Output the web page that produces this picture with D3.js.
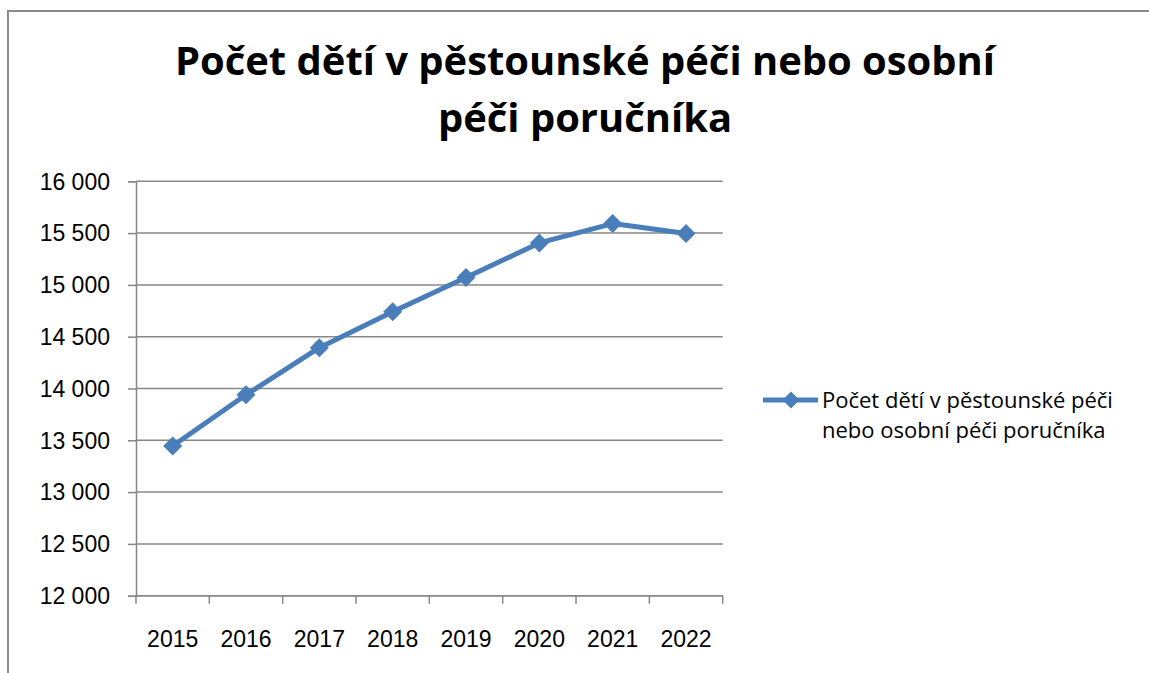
<!DOCTYPE html>
<html>
<head>
<meta charset="utf-8">
<script src="https://cdn.jsdelivr.net/npm/d3@7"></script>
<style>
  html, body { margin: 0; padding: 0; background: #fff; }
  svg { display: block; font-family: "Open Sans", sans-serif; }
</style>
</head>
<body>
<svg id="chart" width="1149" height="673"></svg>
<script>
/* Počet dětí v pěstounské péči – line chart, Excel look */
var years = ['2015', '2016', '2017', '2018', '2019', '2020', '2021', '2022'];
var counts = [13445, 13939, 14394, 14741, 15071, 15405, 15592, 15496];
var yTicks = [12000, 12500, 13000, 13500, 14000, 14500, 15000, 15500, 16000];
var titleLines = ['Počet dětí v pěstounské péči nebo osobní', 'péči poručníka'];
var legendLines = ['Počet dětí v pěstounské péči', 'nebo osobní péči poručníka'];

var blue = '#4a7ebb', grid = '#878787';
var svg = d3.select('#chart');

var plot = { left: 136, right: 722.7, top: 181.3, bottom: 595.7 };
var x = d3.scaleBand().domain(years).range([plot.left, plot.right]).padding(0);
var y = d3.scaleLinear().domain([12000, 16000]).range([plot.bottom, plot.top]);

var cz = d3.formatLocale({ decimal: ',', thousands: '\u00a0', grouping: [3], currency: ['', ''] });
var fmt = cz.format(',d');

/* outer frame (only left + top visible) */
svg.append('path')
  .attr('d', 'M8,673V11H1149')
  .attr('fill', 'none').attr('stroke', '#8a8a8a').attr('stroke-width', 2);

/* title */
var title = svg.append('text')
  .attr('text-anchor', 'middle')
  .style('font-weight', 'bold').style('font-size', '40px').attr('fill', '#000');
titleLines.forEach(function (t, i) {
  title.append('tspan').attr('x', 585).attr('y', 75 + i * 57).text(t);
});
/* squeeze both lines by the same factor so line 1 matches the original narrow font */
var spans = title.selectAll('tspan').nodes();
var ratio = 820 / spans[0].getComputedTextLength();
spans.forEach(function (n) {
  d3.select(n).attr('textLength', n.getComputedTextLength() * ratio)
    .attr('lengthAdjust', 'spacingAndGlyphs');
});

/* gridlines */
svg.append('g').selectAll('line').data(yTicks).join('line')
  .attr('x1', plot.left).attr('x2', plot.right)
  .attr('y1', function (d) { return y(d); }).attr('y2', function (d) { return y(d); })
  .attr('stroke', grid).attr('stroke-width', 1.5);

/* y axis */
var yAxis = svg.append('g').attr('transform', 'translate(' + plot.left + ',0)')
  .call(d3.axisLeft(y).tickValues(yTicks).tickFormat(fmt).tickSize(8).tickPadding(18));
yAxis.select('.domain').attr('stroke', grid).attr('stroke-width', 1.5);
yAxis.selectAll('.tick line').attr('stroke', grid).attr('stroke-width', 1.5);
yAxis.selectAll('text').style('font-size', '23px').attr('fill', '#000').attr('dy', '0.34em');

/* x axis: labels centred in bands, ticks between categories */
var xAxis = svg.append('g').attr('transform', 'translate(0,' + plot.bottom + ')')
  .call(d3.axisBottom(x).tickSize(0).tickPadding(35));
xAxis.select('.domain').remove();
xAxis.selectAll('text').style('font-size', '23px').attr('fill', '#000').attr('dy', '0.71em');
var edges = years.map(function (d) { return x(d); }).concat([plot.right]);
svg.append('line')
  .attr('x1', plot.left).attr('x2', plot.right)
  .attr('y1', plot.bottom).attr('y2', plot.bottom)
  .attr('stroke', grid).attr('stroke-width', 1.5);
svg.append('g').selectAll('line').data(edges).join('line')
  .attr('x1', function (d) { return d; }).attr('x2', function (d) { return d; })
  .attr('y1', plot.bottom).attr('y2', plot.bottom + 8)
  .attr('stroke', grid).attr('stroke-width', 1.5);

/* series */
var pts = years.map(function (d, i) { return [x(d) + x.bandwidth() / 2, y(counts[i])]; });
svg.append('path')
  .attr('d', d3.line()(pts))
  .attr('fill', 'none').attr('stroke', blue).attr('stroke-width', 5)
  .attr('stroke-linejoin', 'round');

function diamond(cx, cy, r) {
  return 'M' + cx + ',' + (cy - r) + 'L' + (cx + r) + ',' + cy +
    'L' + cx + ',' + (cy + r) + 'L' + (cx - r) + ',' + cy + 'Z';
}
svg.append('g').selectAll('path').data(pts).join('path')
  .attr('d', function (p) { return diamond(p[0], p[1], 9.5); })
  .attr('fill', blue);

/* legend */
svg.append('line')
  .attr('x1', 763).attr('x2', 818).attr('y1', 400).attr('y2', 400)
  .attr('stroke', blue).attr('stroke-width', 5);
svg.append('path').attr('d', diamond(791, 400, 8.5)).attr('fill', blue);
var leg = svg.append('text').style('font-size', '22px').attr('fill', '#000');
legendLines.forEach(function (t, i) {
  leg.append('tspan').attr('x', 822).attr('y', 408 + i * 30).text(t);
});
</script>
</body>
</html>
